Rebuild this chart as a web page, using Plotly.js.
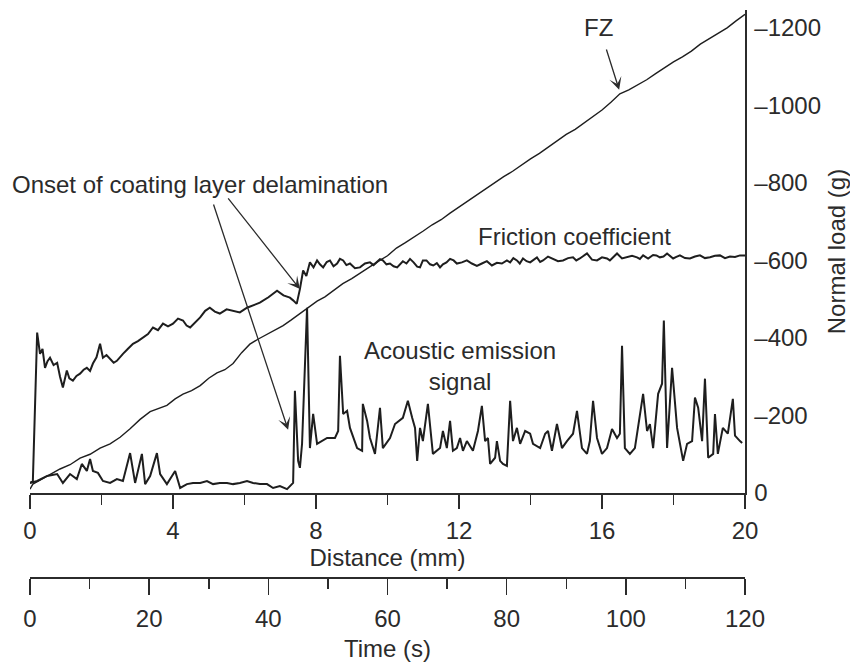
<!DOCTYPE html>
<html>
<head>
<meta charset="utf-8">
<script src="https://cdn.plot.ly/plotly-3.0.1.min.js"></script>
<style>html,body{margin:0;padding:0;background:#fff;}#chart{width:850px;height:668px;}</style>
</head>
<body>
<div id="chart"></div>
<script>
// Distance (mm) vs. normal load scale (g)
const fzDistance = [0.00,0.08,0.28,0.56,0.84,1.12,1.40,1.68,1.96,2.24,2.52,2.80,3.08,3.36,3.60,3.83,4.06,4.28,4.52,4.76,5.00,5.23,5.45,5.68,5.92,6.15,6.40,6.63,6.85,7.08,7.30,7.55,7.83,8.03,8.25,8.50,8.75,9.00,9.25,9.50,9.75,10.00,10.25,10.50,10.75,11.00,11.25,11.50,11.75,12.00,12.25,12.50,12.75,13.00,13.25,13.50,13.75,14.00,14.25,14.50,14.75,15.00,15.25,15.50,15.75,16.00,16.25,16.50,16.75,17.00,17.25,17.50,17.75,18.00,18.25,18.50,18.75,19.00,19.25,19.50,19.75,20.00];
const fzLoad = [10,23,33,47,62,73,90,100,116,127,144,166,190,210,218,226,243,255,264,277,296,310,318,334,362,384,398,410,420,432,446,463,480,495,506,522,540,553,568,585,598,612,632,646,660,676,692,705,722,738,752,770,784,800,816,830,847,862,876,893,910,925,938,955,972,988,1008,1030,1040,1052,1066,1082,1098,1112,1125,1140,1158,1172,1186,1200,1218,1235];

const frictionDistance = [0.00,0.08,0.20,0.24,0.28,0.35,0.42,0.49,0.56,0.66,0.76,0.84,0.92,1.03,1.10,1.20,1.30,1.40,1.50,1.59,1.68,1.76,1.86,1.96,2.04,2.14,2.24,2.34,2.43,2.52,2.60,2.74,2.88,3.02,3.16,3.30,3.44,3.58,3.72,3.86,4.00,4.14,4.28,4.38,4.48,4.62,4.76,4.90,5.03,5.17,5.31,5.50,5.68,5.87,6.07,6.25,6.43,6.67,6.91,7.09,7.27,7.36,7.46,7.55,7.64,7.73,7.83,7.93,8.03,8.11,8.20,8.30,8.39,8.49,8.59,8.67,8.76,8.85,8.95,9.09,9.23,9.37,9.51,9.61,9.71,9.79,9.87,9.97,10.07,10.17,10.27,10.43,10.53,10.63,10.73,10.83,10.91,10.99,11.09,11.19,11.28,11.38,11.47,11.55,11.65,11.75,11.85,11.94,12.08,12.22,12.36,12.50,12.64,12.78,12.92,13.06,13.20,13.34,13.43,13.52,13.62,13.70,13.79,13.89,13.99,14.08,14.18,14.27,14.35,14.49,14.63,14.77,14.91,15.05,15.19,15.28,15.38,15.48,15.58,15.72,15.86,16.00,16.14,16.22,16.32,16.42,16.56,16.70,16.84,16.98,17.06,17.15,17.29,17.43,17.52,17.62,17.72,17.82,17.90,17.99,18.08,18.18,18.32,18.46,18.60,18.74,18.88,19.02,19.16,19.30,19.44,19.58,19.72,19.86,20.00];
const frictionLoad = [26,31,414,380,359,372,323,340,349,330,336,300,272,316,296,290,302,308,318,323,315,334,350,385,349,356,347,336,341,352,359,372,385,392,401,410,427,420,437,430,437,450,445,432,427,440,453,470,478,468,463,474,471,466,478,485,491,505,522,510,504,497,488,526,574,560,595,582,600,590,582,596,600,585,592,604,600,588,592,580,582,592,595,588,595,603,600,590,592,585,582,598,592,604,595,584,582,600,600,590,587,593,582,590,595,604,600,592,595,600,592,586,592,598,587,594,592,600,595,606,600,592,605,598,595,602,608,596,600,610,605,598,600,606,608,600,605,612,618,602,600,608,605,600,608,618,605,608,612,608,604,613,605,614,613,608,610,618,612,605,609,613,606,605,610,613,606,608,612,613,606,610,609,613,613];

const aeDistance = [0.00,0.20,0.48,0.76,0.92,1.12,1.31,1.45,1.59,1.68,1.76,1.90,2.04,2.24,2.43,2.60,2.80,2.94,3.13,3.22,3.36,3.55,3.64,3.83,4.06,4.20,4.39,4.56,4.76,4.95,5.12,5.31,5.51,5.68,5.87,6.07,6.24,6.43,6.63,6.80,6.99,7.19,7.36,7.41,7.50,7.55,7.61,7.75,7.83,7.92,8.03,8.17,8.31,8.53,8.62,8.67,8.76,8.87,8.95,9.15,9.29,9.31,9.43,9.51,9.65,9.79,9.87,10.07,10.21,10.43,10.57,10.69,10.77,10.83,10.91,10.99,11.13,11.27,11.47,11.55,11.66,11.75,11.83,11.94,12.03,12.11,12.22,12.39,12.53,12.64,12.73,12.81,12.87,13.01,13.06,13.15,13.23,13.34,13.43,13.51,13.62,13.71,13.85,13.99,14.07,14.27,14.41,14.49,14.60,14.74,14.88,15.02,15.19,15.30,15.44,15.58,15.66,15.75,15.86,16.00,16.14,16.28,16.42,16.50,16.56,16.64,16.78,16.92,17.01,17.15,17.26,17.34,17.43,17.57,17.68,17.73,17.82,17.96,18.10,18.27,18.38,18.52,18.60,18.69,18.80,18.88,18.97,19.11,19.16,19.24,19.38,19.52,19.66,19.72,19.86,19.92];
const aeLoad = [26,31,44,49,26,49,36,75,57,88,57,52,31,26,36,31,103,26,101,23,44,103,49,23,57,13,23,26,26,31,23,26,26,23,26,31,26,23,23,13,18,10,26,264,83,65,127,478,116,204,127,134,142,142,160,354,204,212,168,116,109,230,186,142,101,220,116,142,178,194,238,194,168,83,168,134,230,101,116,160,116,186,109,116,142,109,134,109,160,225,134,142,75,91,134,83,75,70,238,134,168,127,160,153,127,116,153,160,109,178,116,134,153,212,116,101,134,238,142,101,116,165,142,153,380,116,101,116,168,256,160,178,116,256,282,445,116,323,168,83,127,134,246,220,134,295,91,101,204,101,168,153,243,148,134,129];

const loadTicks = [0,200,400,600,800,1000,1200];
const loadTickText = ['0','\u2013200','\u2013400','\u2013600','\u2013800','\u20131000','\u20131200'];

const FONT = 'Liberation Sans, Arial, sans-serif';
const INK = '#2b2b2b';
const FS = 24;
const lineStyle = (w) => ({color: '#1e1e1e', width: w});

const traces = [
  {x: fzDistance, y: fzLoad, mode: 'lines', line: lineStyle(1.4), name: 'FZ', hoverinfo: 'skip'},
  {x: frictionDistance, y: frictionLoad, mode: 'lines', line: lineStyle(2), name: 'Friction coefficient', hoverinfo: 'skip'},
  {x: aeDistance, y: aeLoad, mode: 'lines', line: lineStyle(2), name: 'Acoustic emission signal', hoverinfo: 'skip'},
  {x: [], y: [], xaxis: 'x2', yaxis: 'y', mode: 'lines', showlegend: false, hoverinfo: 'skip'}
];

const arrow = (x, y, ax, ay) => ({x, y, ax, ay, xref: 'x', yref: 'y', axref: 'x', ayref: 'y', text: '', showarrow: true,
  arrowhead: 3, arrowsize: 1.6, arrowwidth: 1.3, arrowcolor: INK});
const label = (x, y, text) => ({x, y, xref: 'x', yref: 'y', text, showarrow: false, font: {family: FONT, size: FS, color: INK}, align: 'center'});

const layout = {
  width: 850, height: 668,
  margin: {l: 30, r: 105, t: 10, b: 40},
  paper_bgcolor: '#fff', plot_bgcolor: '#fff',
  showlegend: false,
  font: {family: FONT, size: FS, color: INK},
  xaxis: {
    range: [0, 20], showgrid: false, zeroline: false, showline: true, linewidth: 2, linecolor: INK,
    ticks: 'outside', dtick: 4, tick0: 0, ticklen: 14, tickwidth: 1.5, tickcolor: INK,
    minor: {dtick: 2, ticks: 'outside', ticklen: 10, tickwidth: 1.5, tickcolor: INK, showgrid: false},
    tickfont: {family: FONT, size: FS, color: INK}, ticklabelstandoff: 1,
    title: {text: 'Distance (mm)', font: {family: FONT, size: FS, color: INK}, standoff: 5},
    automargin: false, fixedrange: true
  },
  xaxis2: {
    overlaying: 'x', anchor: 'free', position: 0.0809, side: 'bottom',
    range: [0, 120], showgrid: false, zeroline: false, showline: true, linewidth: 2, linecolor: INK,
    ticks: 'outside', dtick: 20, tick0: 0, ticklen: 16, tickwidth: 1.5, tickcolor: INK,
    minor: {dtick: 10, ticks: 'outside', ticklen: 10, tickwidth: 1.5, tickcolor: INK, showgrid: false},
    tickfont: {family: FONT, size: FS, color: INK}, ticklabelstandoff: 3,
    title: {text: 'Time (s)', font: {family: FONT, size: FS, color: INK}, standoff: 8},
    automargin: false, fixedrange: true
  },
  yaxis: {
    domain: [0.2184, 1], range: [0, 1246], side: 'right',
    showgrid: false, zeroline: false, showline: true, linewidth: 1.5, linecolor: INK,
    ticks: '', tickvals: loadTicks, ticktext: loadTickText,
    tickfont: {family: FONT, size: FS, color: INK}, ticklabelstandoff: 3,
    title: {text: 'Normal load (g)', font: {family: FONT, size: FS, color: INK}, standoff: 8},
    automargin: false, fixedrange: true
  },
  annotations: [
    label(15.89, 1200, 'FZ'),
    arrow(16.48, 1040, 16.11, 1148),
    label(4.75, 797, 'Onset of coating layer delamination'),
    arrow(7.55, 526, 5.51, 764),
    arrow(7.22, 163, 5.12, 748),
    label(15.24, 663, 'Friction coefficient'),
    label(12.03, 328, 'Acoustic emission<br>signal')
  ]
};

Plotly.newPlot('chart', traces, layout, {displayModeBar: false, staticPlot: true});
</script>
</body>
</html>
